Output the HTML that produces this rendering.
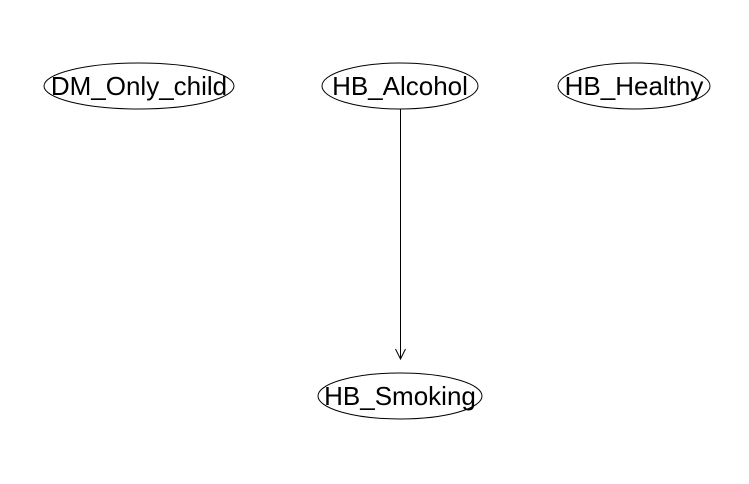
<!DOCTYPE html>
<html><head><style>html,body{margin:0;padding:0;background:#fff;}</style></head>
<body>
<svg width="749" height="484" xmlns="http://www.w3.org/2000/svg" style="display:block">
<rect width="749" height="484" fill="#fff"/>
<g fill="none" stroke="#000" stroke-width="1">
<ellipse cx="139" cy="86" rx="95" ry="23"/>
<ellipse cx="400" cy="86" rx="78" ry="23"/>
<ellipse cx="634" cy="86" rx="76" ry="23"/>
<ellipse cx="400" cy="396" rx="82" ry="23"/>
<line x1="400.5" y1="109" x2="400.5" y2="359"/>
<polyline points="395.5,349 400.5,359 405.5,349"/>
</g>
<g font-family="Liberation Sans, Arial, sans-serif" font-size="26" text-anchor="middle" fill="#000">
<text x="139" y="95">DM_Only_child</text>
<text x="400" y="95">HB_Alcohol</text>
<text x="634" y="95">HB_Healthy</text>
<text x="400" y="405">HB_Smoking</text>
</g>
</svg>
</body></html>
